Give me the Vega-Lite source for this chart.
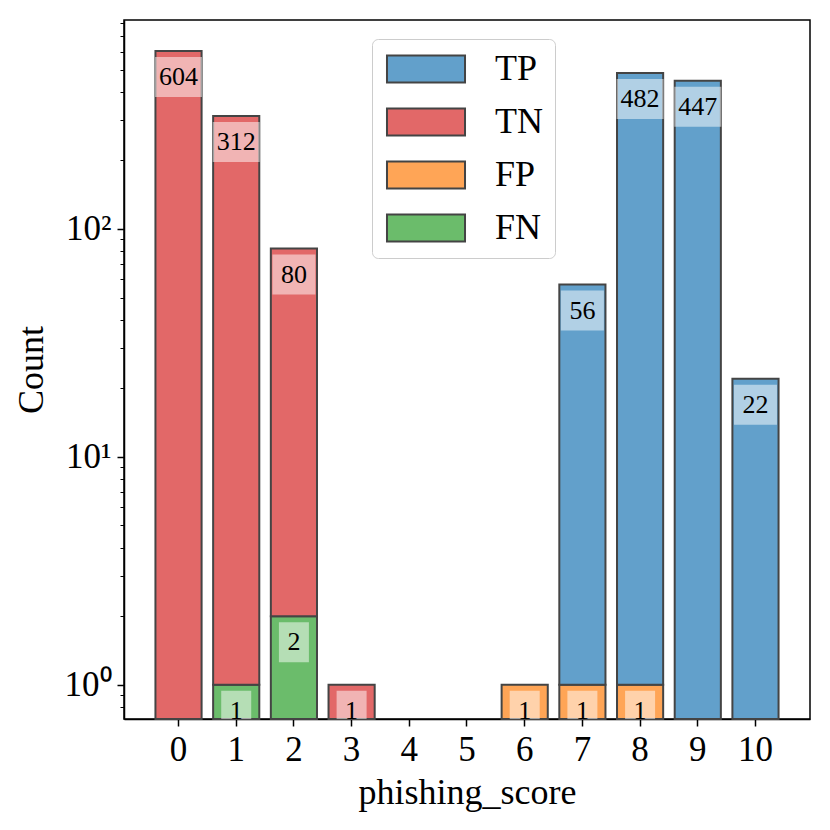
{
  "$schema": "https://vega.github.io/schema/vega-lite/v6.json",
  "autosize": {"type": "none"},
  "width": 686,
  "height": 699,
  "padding": {"left": 124, "top": 20, "right": 20, "bottom": 111},
  "background": "white",
  "config": {
    "view": {"stroke": "black", "strokeWidth": 1.5},
    "font": "Liberation Serif",
    "axis": {"labelFont": "Liberation Serif", "titleFont": "Liberation Serif", "labelColor": "black", "titleColor": "black", "titleFontWeight": "normal", "domainColor": "black", "tickColor": "black", "grid": false},
    "legend": {"labelFont": "Liberation Serif", "labelColor": "black"}
  },
  "data": {
    "values": [
      {"score": 0, "cls": "TN", "count": 604},
      {"score": 1, "cls": "FN", "count": 1},
      {"score": 1, "cls": "TN", "count": 312},
      {"score": 2, "cls": "FN", "count": 2},
      {"score": 2, "cls": "TN", "count": 80},
      {"score": 3, "cls": "TN", "count": 1},
      {"score": 6, "cls": "FP", "count": 1},
      {"score": 7, "cls": "FP", "count": 1},
      {"score": 7, "cls": "TP", "count": 56},
      {"score": 8, "cls": "FP", "count": 1},
      {"score": 8, "cls": "TP", "count": 482},
      {"score": 9, "cls": "TP", "count": 447},
      {"score": 10, "cls": "TP", "count": 22}
    ]
  },
  "encoding": {
    "x": {
      "field": "score", "type": "ordinal",
      "scale": {"domain": [0, 1, 2, 3, 4, 5, 6, 7, 8, 9, 10], "paddingInner": 0.2, "paddingOuter": 0.545},
      "axis": {"title": "phishing_score", "labelAngle": 0, "labelFontSize": 35, "titleFontSize": 36, "tickSize": 7, "tickWidth": 1.5, "domainWidth": 1.5, "labelPadding": 6, "titlePadding": 8}
    },
    "y": {
      "field": "count", "type": "quantitative", "stack": "zero",
      "scale": {"type": "log", "domain": [0.7075, 825.4], "nice": false, "zero": false, "clamp": true},
      "axis": {
        "title": "Count",
        "values": [0.8, 0.9, 1, 2, 3, 4, 5, 6, 7, 8, 9, 10, 20, 30, 40, 50, 60, 70, 80, 90, 100, 200, 300, 400, 500, 600, 700, 800],
        "labelExpr": "datum.value == 1 ? '10⁰' : datum.value == 10 ? '10¹' : datum.value == 100 ? '10²' : ''",
        "tickSize": {"condition": {"test": "datum.value == 1 || datum.value == 10 || datum.value == 100", "value": 7}, "value": 4},
        "tickWidth": {"condition": {"test": "datum.value == 1 || datum.value == 10 || datum.value == 100", "value": 1.5}, "value": 1},
        "labelFontSize": 35, "titleFontSize": 36, "domainWidth": 1.5, "labelPadding": 6, "titlePadding": 14, "labelOverlap": false
      }
    },
    "order": {"field": "cls", "sort": "ascending"}
  },
  "layer": [
    {
      "mark": {"type": "bar", "stroke": "#444444", "strokeWidth": 2, "opacity": 1},
      "encoding": {
        "color": {
          "field": "cls", "type": "nominal",
          "scale": {"domain": ["TP", "TN", "FP", "FN"], "range": ["#62a0cb", "#e26868", "#ffa556", "#6bbc6b"]},
          "legend": {
            "title": null, "orient": "none", "legendX": 248, "legendY": 19,
            "symbolType": "M-2.89,-1H2.89V1H-2.89Z", "symbolSize": 729, "symbolOffset": 24,
            "symbolStrokeColor": "#444444", "symbolStrokeWidth": 2, "symbolOpacity": 1,
            "labelFontSize": 36, "labelOffset": 51, "rowPadding": 17,
            "padding": 12, "fillColor": "white", "strokeColor": "#cccccc", "cornerRadius": 6
          }
        }
      }
    },
    {
      "mark": {"type": "tick", "color": "white", "opacity": 0.5, "thickness": 40, "yOffset": 26, "clip": true},
      "encoding": {
        "size": {"condition": [{"test": "datum.count >= 100", "value": 47}, {"test": "datum.count >= 10", "value": 43}], "value": 30}
      }
    },
    {
      "mark": {"type": "text", "baseline": "middle", "dy": 26, "fontSize": 26, "font": "Liberation Serif", "color": "black"},
      "encoding": {"text": {"field": "count", "type": "quantitative"}}
    }
  ]
}
